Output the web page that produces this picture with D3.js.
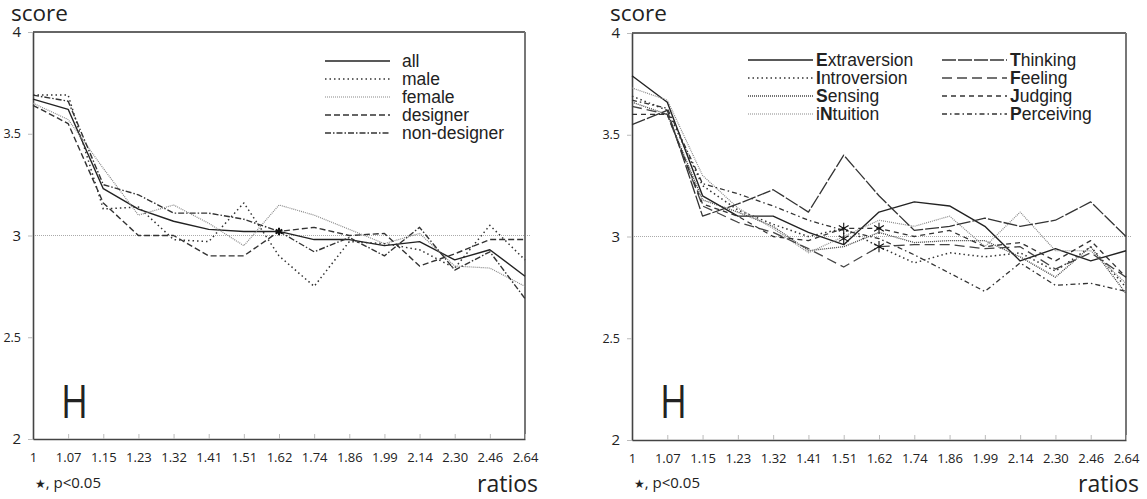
<!DOCTYPE html>
<html>
<head>
<meta charset="utf-8">
<script src="https://cdn.jsdelivr.net/npm/d3@7"></script>
<style>
    body { margin: 0; background: #fff; }
    svg { display: block; }
    .tick-label { font-family: "Open Sans", "Noto Sans", sans-serif; fill: #222; }
    .legend text { font-family: "Liberation Sans", Arial, sans-serif; font-size: 17.5px; fill: #222; }
</style>
</head>
<body>
<svg id="chart" width="1147" height="499"></svg>
<script>
'use strict';

var ratios = ['1', '1.07', '1.15', '1.23', '1.32', '1.41', '1.51', '1.62',
    '1.74', '1.86', '1.99', '2.14', '2.30', '2.46', '2.64'];
var yTicks = [2, 2.5, 3, 3.5, 4];

// left panel: groups
var groupNames = ['all', 'male', 'female', 'designer', 'non-designer'];
var allScores = [3.67, 3.62, 3.23, 3.13, 3.07, 3.03, 3.02, 3.02, 2.98, 2.98, 2.95, 2.97, 2.88, 2.93, 2.80];
var maleScores = [3.69, 3.69, 3.13, 3.14, 2.98, 2.97, 3.16, 2.90, 2.75, 2.97, 2.96, 2.93, 2.84, 3.05, 2.88];
var femaleScores = [3.65, 3.57, 3.33, 3.10, 3.15, 3.06, 2.95, 3.15, 3.10, 3.03, 2.96, 3.01, 2.85, 2.84, 2.75];
var designerScores = [3.64, 3.55, 3.16, 3.00, 3.00, 2.90, 2.90, 3.02, 3.04, 3.00, 3.01, 2.85, 2.91, 2.98, 2.98];
var nonDesignerScores = [3.69, 3.66, 3.25, 3.20, 3.11, 3.11, 3.08, 3.02, 2.92, 2.99, 2.90, 3.04, 2.83, 2.92, 2.69];
var groupStars = [['1.62', 3.02]];

// right panel: MBTI types
var typeNames = ['Extraversion', 'Introversion', 'Sensing', 'iNtuition',
    'Thinking', 'Feeling', 'Judging', 'Perceiving'];
var typeLetters = ['E', 'I', 'S', 'N', 'T', 'F', 'J', 'P'];
var extraversion = [3.79, 3.66, 3.20, 3.10, 3.10, 3.02, 2.96, 3.12, 3.17, 3.15, 3.05, 2.88, 2.94, 2.88, 2.93];
var introversion = [3.69, 3.62, 3.25, 3.13, 3.06, 3.00, 3.04, 2.95, 2.87, 2.92, 2.90, 2.92, 2.83, 2.95, 2.75];
var sensing = [3.66, 3.60, 3.18, 3.12, 3.05, 2.93, 2.95, 3.02, 2.97, 2.98, 2.98, 2.90, 2.80, 2.95, 2.72];
var intuition = [3.73, 3.67, 3.30, 3.14, 3.04, 2.92, 3.00, 3.08, 3.05, 3.10, 2.95, 3.12, 2.93, 2.93, 2.77];
var thinking = [3.55, 3.62, 3.10, 3.16, 3.23, 3.12, 3.40, 3.20, 3.03, 3.05, 3.09, 3.05, 3.08, 3.17, 3.00];
var feeling = [3.64, 3.60, 3.15, 3.07, 3.02, 2.94, 2.85, 2.95, 2.96, 2.96, 2.94, 2.95, 2.84, 2.92, 2.80];
var judging = [3.60, 3.60, 3.16, 3.10, 3.00, 2.98, 3.04, 3.04, 3.00, 3.03, 2.95, 2.97, 2.88, 2.98, 2.80];
var perceiving = [3.67, 3.63, 3.26, 3.21, 3.15, 3.08, 3.03, 2.99, 2.91, 2.82, 2.73, 2.87, 2.76, 2.77, 2.73];
var typeStars = [['1.51', 3.04], ['1.51', 2.99], ['1.62', 3.04], ['1.62', 2.95]];

var lineStyles = {
    solid: { dash: null, color: '#222', width: 1.4 },
    dots: { dash: '1.5,3', color: '#333', width: 1.5 },
    fineDots: { dash: '1,1', color: '#888', width: 1.2 },
    denseDots: { dash: '1,1', color: '#444', width: 1.3 },
    dashed: { dash: '6,3', color: '#333', width: 1.4 },
    longDash: { dash: '14,2', color: '#333', width: 1.3 },
    wideDash: { dash: '10,5', color: '#444', width: 1.3 },
    shortDash: { dash: '5,4', color: '#333', width: 1.3 },
    dashDot: { dash: '6,2,1.5,2', color: '#333', width: 1.4 },
    dashDotWide: { dash: '5,3,1.5,3', color: '#333', width: 1.3 }
};

var svg = d3.select('#chart');

function drawPanel(opts) {
    var x = d3.scalePoint().domain(ratios).range([opts.left, opts.right]),
        y = d3.scaleLinear().domain([2, 4]).range([opts.bottom, opts.top]),
        g = svg.append('g'),
        line = d3.line()
            .x(function (d, i) { return x(ratios[i]); })
            .y(function (d) { return y(d); });

    // reference line at 3
    g.append('line')
        .attr('x1', opts.left).attr('x2', opts.right + 6)
        .attr('y1', y(3)).attr('y2', y(3))
        .attr('stroke', '#aaa').attr('stroke-width', 1)
        .attr('stroke-dasharray', '1,1');

    // frame top and right
    g.append('line')
        .attr('x1', opts.left).attr('x2', opts.right)
        .attr('y1', opts.top).attr('y2', opts.top)
        .attr('stroke', '#333').attr('stroke-width', 1.3);
    g.append('line')
        .attr('x1', opts.right).attr('x2', opts.right)
        .attr('y1', opts.top).attr('y2', opts.bottom)
        .attr('stroke', '#777').attr('stroke-width', 2);

    var xAxis = g.append('g')
        .attr('transform', 'translate(0,' + opts.bottom + ')')
        .call(d3.axisBottom(x).tickSizeInner(-5).tickSizeOuter(0).tickPadding(14));
    xAxis.select('.domain').attr('stroke', '#444').attr('stroke-width', 1.6);
    xAxis.selectAll('.tick line').attr('stroke', '#bbb');
    xAxis.selectAll('.tick text').attr('class', 'tick-label').attr('font-size', 13);

    var yAxis = g.append('g')
        .attr('transform', 'translate(' + opts.left + ',0)')
        .call(d3.axisLeft(y).tickValues(yTicks).tickSizeInner(5).tickSizeOuter(0).tickPadding(7)
            .tickFormat(d3.format('')));
    yAxis.select('.domain').attr('stroke', '#444').attr('stroke-width', 1.6);
    yAxis.selectAll('.tick line').attr('stroke', '#bbb');
    yAxis.selectAll('.tick text')
        .attr('class', 'tick-label')
        .attr('font-size', function (d) { return d % 1 ? 12.5 : 15; });

    g.selectAll('path.series')
        .data(opts.series)
        .enter()
        .append('path')
        .attr('class', 'series')
        .attr('d', function (s) { return line(s.values); })
        .attr('fill', 'none')
        .attr('stroke', function (s) { return lineStyles[s.style].color; })
        .attr('stroke-width', function (s) { return lineStyles[s.style].width; })
        .attr('stroke-dasharray', function (s) { return lineStyles[s.style].dash; })
        .attr('stroke-linejoin', 'round');

    g.selectAll('path.star')
        .data(opts.stars)
        .enter()
        .append('path')
        .attr('class', 'star')
        .attr('transform', function (d) { return 'translate(' + x(d[0]) + ',' + y(d[1]) + ')'; })
        .attr('d', d3.symbol(d3.symbolAsterisk, opts.starSize))
        .attr('fill', 'none')
        .attr('stroke', '#111')
        .attr('stroke-width', opts.starWidth);

    // titles
    g.append('text')
        .attr('class', 'tick-label')
        .attr('x', opts.left - 22).attr('y', 21)
        .attr('font-size', 22.5)
        .text('score');
    g.append('text')
        .attr('class', 'tick-label')
        .attr('x', opts.right + 13).attr('y', 492)
        .attr('text-anchor', 'end')
        .attr('font-size', 23)
        .text('ratios');
    g.append('text')
        .attr('class', 'tick-label')
        .attr('x', opts.left + 28).attr('y', 418)
        .attr('font-size', 46)
        .attr('textLength', 27)
        .attr('lengthAdjust', 'spacingAndGlyphs')
        .text('H');

    var note = g.append('text')
        .attr('class', 'tick-label')
        .attr('x', opts.left + 2).attr('y', 488)
        .attr('font-size', 15);
    note.append('tspan').attr('font-size', 12).attr('font-family', 'DejaVu Sans').text('\u2605');
    note.append('tspan').text(', p<0.05');

    var legend = g.append('g').attr('class', 'legend'),
        rows = legend.selectAll('g')
            .data(opts.series)
            .enter()
            .append('g')
            .attr('transform', function (s, i) {
                var col = Math.floor(i / opts.legendRows),
                    row = i % opts.legendRows;
                return 'translate(' + opts.legendX[col] + ',' + (opts.legendY + row * 18) + ')';
            });

    rows.append('line')
        .attr('x1', 0).attr('x2', 65)
        .attr('stroke', function (s) { return lineStyles[s.style].color; })
        .attr('stroke-width', function (s) { return lineStyles[s.style].width; })
        .attr('stroke-dasharray', function (s) { return lineStyles[s.style].dash; });

    rows.append('text')
        .attr('x', opts.legendGap)
        .attr('y', 5.5)
        .each(function (s) {
            var t = d3.select(this),
                k = s.letter ? s.name.indexOf(s.letter) : -1;
            if (k < 0) {
                t.text(s.name);
                return;
            }
            t.append('tspan').text(s.name.slice(0, k));
            t.append('tspan').attr('font-weight', 'bold').text(s.name.charAt(k));
            t.append('tspan').text(s.name.slice(k + 1));
        });
}

drawPanel({
    left: 33, right: 525, top: 32, bottom: 439,
    series: [
        { name: groupNames[0], values: allScores, style: 'solid' },
        { name: groupNames[1], values: maleScores, style: 'dots' },
        { name: groupNames[2], values: femaleScores, style: 'fineDots' },
        { name: groupNames[3], values: designerScores, style: 'dashed' },
        { name: groupNames[4], values: nonDesignerScores, style: 'dashDot' }
    ],
    stars: groupStars,
    starSize: 40,
    starWidth: 2,
    legendRows: 5,
    legendX: [325],
    legendY: 61,
    legendGap: 77
});

drawPanel({
    left: 632, right: 1126, top: 33, bottom: 440,
    series: [
        { name: typeNames[0], letter: typeLetters[0], values: extraversion, style: 'solid' },
        { name: typeNames[1], letter: typeLetters[1], values: introversion, style: 'dots' },
        { name: typeNames[2], letter: typeLetters[2], values: sensing, style: 'denseDots' },
        { name: typeNames[3], letter: typeLetters[3], values: intuition, style: 'fineDots' },
        { name: typeNames[4], letter: typeLetters[4], values: thinking, style: 'longDash' },
        { name: typeNames[5], letter: typeLetters[5], values: feeling, style: 'wideDash' },
        { name: typeNames[6], letter: typeLetters[6], values: judging, style: 'shortDash' },
        { name: typeNames[7], letter: typeLetters[7], values: perceiving, style: 'dashDotWide' }
    ],
    stars: typeStars,
    starSize: 90,
    starWidth: 1.1,
    legendRows: 4,
    legendX: [748, 942],
    legendY: 60,
    legendGap: 68
});
</script>
</body>
</html>
